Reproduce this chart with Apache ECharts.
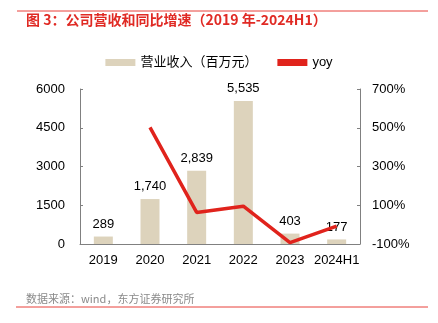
<!DOCTYPE html>
<html><head><meta charset="utf-8">
<script src="https://cdn.jsdelivr.net/npm/echarts@6/dist/echarts.min.js"></script>
<style>html,body{margin:0;padding:0;background:#fff}#c{width:438px;height:323px}</style>
</head><body><div id="c"></div>
<script>
const categories = ['2019','2020','2021','2022','2023','2024H1'];
const revenue = [289, 1740, 2839, 5535, 403, 177];
const yoy = [null, 502, 63, 95, -93, -8];
const leftTicks = [0, 1500, 3000, 4500, 6000];
const rightTicks = [-100, 100, 300, 500, 700];

const FONT = '"Liberation Sans","Noto Sans CJK SC",Arial,sans-serif';
const chart = echarts.init(document.getElementById('c'), null, {renderer:'canvas'});
chart.setOption({
  animation:false,
  textStyle:{fontFamily:FONT},
  graphic:[
    {type:'line', shape:{x1:17,y1:11,x2:428,y2:11}, style:{stroke:'#e8403a', lineWidth:1}},
    {type:'text', left:26, top:13, style:{text:'图 3：公司营收和同比增速（2019 年-2024H1）', fill:'#e02a24', font:'bold 14px "Noto Sans CJK SC","Liberation Sans",sans-serif'}},
    {type:'text', left:26, top:293, style:{text:'数据来源：wind，东方证券研究所', fill:'#8a8a8a', font:'11px "Noto Sans CJK SC","Liberation Sans",sans-serif'}},
    {type:'line', shape:{x1:16,y1:307,x2:428,y2:307}, style:{stroke:'#e8403a', lineWidth:1}}
  ],
  legend:{
    top:51, left:'center', itemGap:20, itemWidth:30, itemHeight:7,
    textStyle:{fontSize:13, color:'#000', fontFamily:'"Liberation Sans","Noto Sans CJK SC",sans-serif'},
    data:[{name:'营业收入（百万元）', icon:'rect'},{name:'yoy', icon:'rect', itemStyle:{color:'#e0231c'}}]
  },
  grid:{left:80, right:78, top:89, bottom:79},
  xAxis:{
    type:'category', data:categories,
    axisLine:{lineStyle:{color:'#808080'}},
    axisTick:{inside:true, length:3, lineStyle:{color:'#808080'}},
    axisLabel:{color:'#000', fontSize:13, margin:10, interval:0}
  },
  yAxis:[
    {type:'value', min:0, max:6000, interval:1500, splitLine:{show:false},
     axisLine:{show:true, lineStyle:{color:'#808080'}},
     axisTick:{show:true, inside:true, length:3, lineStyle:{color:'#808080'}},
     axisLabel:{color:'#000', fontSize:13, margin:15, formatter:v=>String(v)}},
    {type:'value', min:-100, max:700, interval:200, splitLine:{show:false},
     axisLine:{show:true, lineStyle:{color:'#808080'}},
     axisTick:{show:true, inside:true, length:3, lineStyle:{color:'#808080'}},
     axisLabel:{color:'#000', fontSize:13, margin:12, formatter:v=>v+'%'}}
  ],
  series:[
    {name:'营业收入（百万元）', type:'bar', data:revenue, barWidth:19,
     itemStyle:{color:'#ddd3bc'},
     label:{show:true, position:'top', distance:6, color:'#000', fontSize:13,
       formatter:p=>p.value.toLocaleString('en-US')}},
    {name:'yoy', type:'line', yAxisIndex:1, data:yoy, symbol:'none', connectNulls:false,
     lineStyle:{color:'#e0231c', width:3.5}, itemStyle:{color:'#e0231c'}, z:3}
  ]
});
</script></body></html>
